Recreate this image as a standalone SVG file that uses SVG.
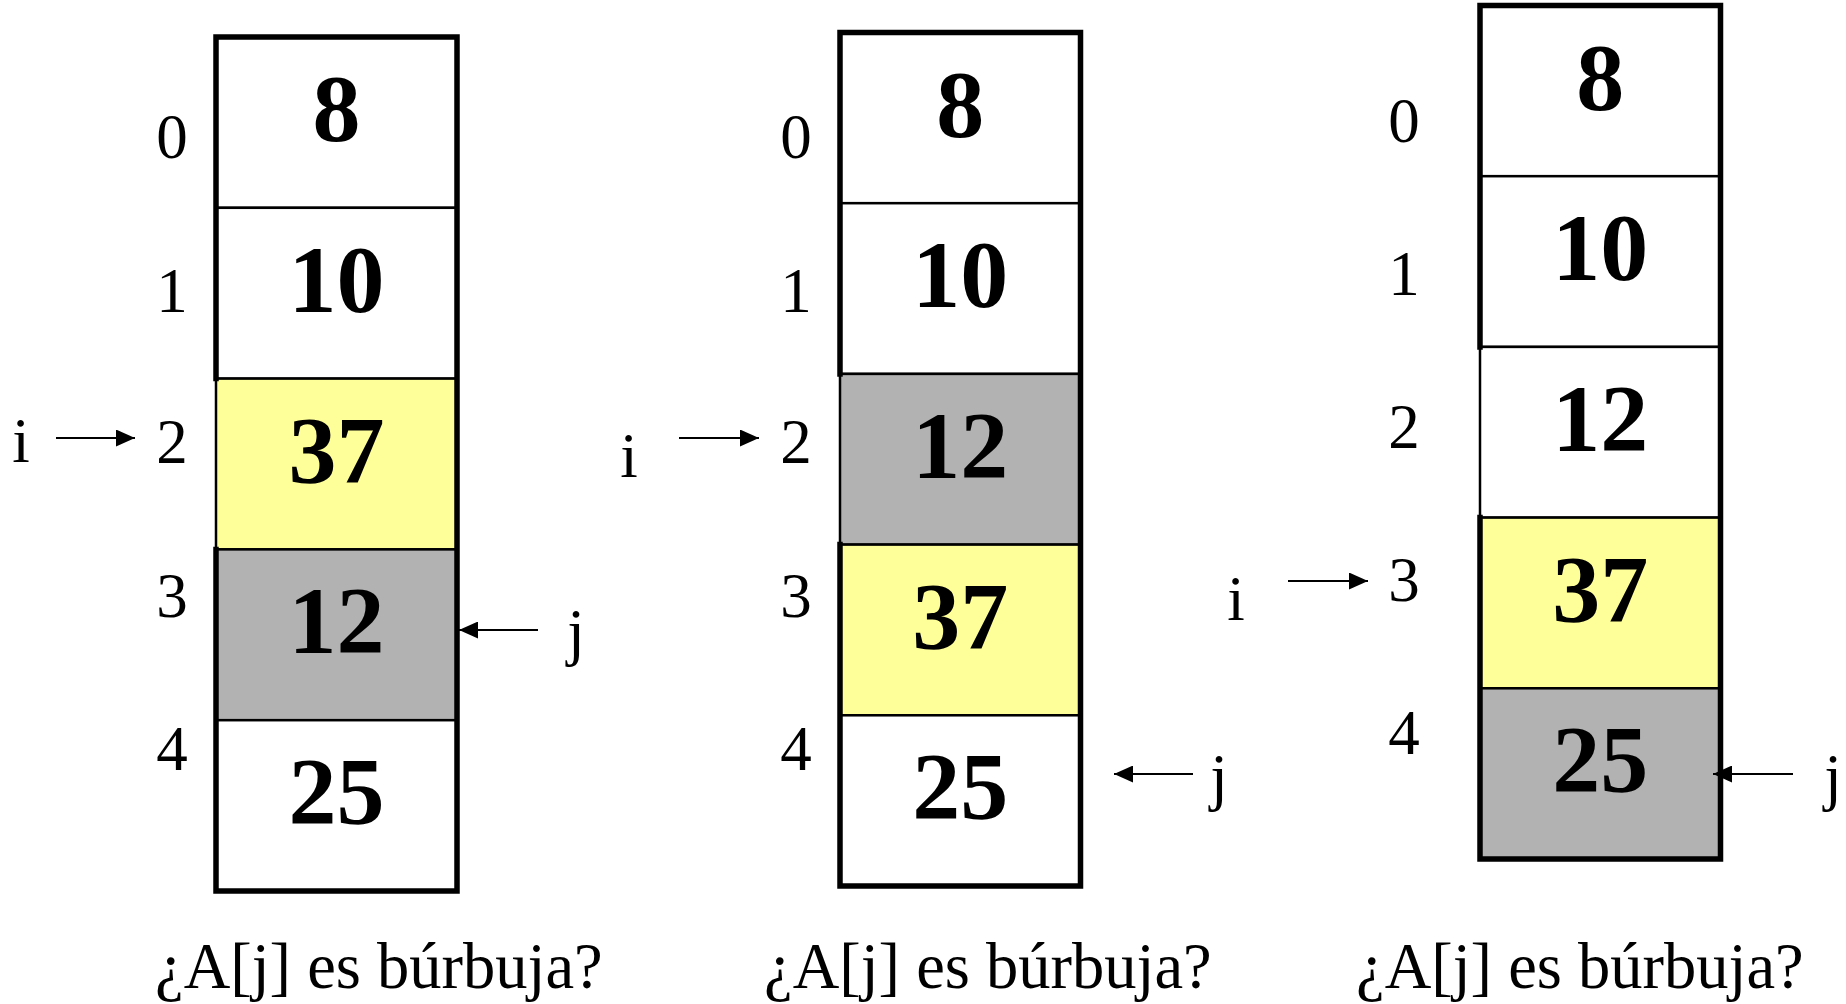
<svg xmlns="http://www.w3.org/2000/svg" width="1846" height="1004" viewBox="0 0 1846 1004">
  <style>
    .cell { stroke: #000; stroke-width: 2.5; }
    .white { fill: #ffffff; }
    .yellow { fill: #ffff99; }
    .gray { fill: #b2b2b2; }
    .frame { fill: none; stroke: #000; stroke-width: 5.5; stroke-linecap: square; }
    .val { font-family: "Liberation Serif", "Times New Roman", serif; font-weight: bold; font-size: 96px; text-anchor: middle; fill: #000; }
    .idx { font-family: "Liberation Serif", "Times New Roman", serif; font-size: 63px; text-anchor: middle; fill: #000; }
    .cap { font-family: "Liberation Serif", "Times New Roman", serif; font-size: 64.5px; fill: #000; }
    .ptr { stroke: #000; stroke-width: 2; fill: none; marker-end: url(#head); }
  </style>
  <defs>
    <marker id="head" viewBox="0 0 19 17" refX="19" refY="8.5" markerWidth="19" markerHeight="17" markerUnits="userSpaceOnUse" orient="auto">
      <path d="M0,0 L19,8.5 L0,17 z" fill="#000"/>
    </marker>
  </defs>
  <rect width="1846" height="1004" fill="#ffffff"/>

  <!-- Array state 1: i=2, j=3 -->
  <g id="array1">
    <rect class="cell white" x="216" y="37" width="241" height="170.8"/>
    <rect class="cell white" x="216" y="207.8" width="241" height="170.8"/>
    <rect class="cell yellow" x="216" y="378.6" width="241" height="170.8"/>
    <rect class="cell gray" x="216" y="549.4" width="241" height="170.8"/>
    <rect class="cell white" x="216" y="720.2" width="241" height="170.8"/>
    <path class="frame" d="M216,378.6 L216,37 L457,37 L457,891 L216,891 L216,549.4"/>
    <text class="val" x="336.5" y="141">8</text>
    <text class="val" x="336.5" y="312">10</text>
    <text class="val" x="336.5" y="483">37</text>
    <text class="val" x="336.5" y="653">12</text>
    <text class="val" x="336.5" y="824">25</text>
    <text class="idx" x="172" y="158">0</text>
    <text class="idx" x="172" y="312">1</text>
    <text class="idx" x="172" y="463">2</text>
    <text class="idx" x="172" y="617">3</text>
    <text class="idx" x="172" y="770">4</text>
    <text class="idx" x="21" y="462">i</text>
    <text class="idx" x="576" y="653">j</text>
    <text class="cap" x="155" y="988">¿A[j] es búrbuja?</text>
  </g>

  <!-- Array state 2: i=2, j=4 -->
  <g id="array2">
    <rect class="cell white" x="840" y="32.5" width="240.5" height="170.7"/>
    <rect class="cell white" x="840" y="203.2" width="240.5" height="170.7"/>
    <rect class="cell gray" x="840" y="373.9" width="240.5" height="170.7"/>
    <rect class="cell yellow" x="840" y="544.6" width="240.5" height="170.7"/>
    <rect class="cell white" x="840" y="715.3" width="240.5" height="170.7"/>
    <path class="frame" d="M840,373.9 L840,32.5 L1080.5,32.5 L1080.5,886 L840,886 L840,544.6"/>
    <text class="val" x="960.3" y="136.5">8</text>
    <text class="val" x="960.3" y="307">10</text>
    <text class="val" x="960.3" y="478">12</text>
    <text class="val" x="960.3" y="648.5">37</text>
    <text class="val" x="960.3" y="819">25</text>
    <text class="idx" x="796" y="158">0</text>
    <text class="idx" x="796" y="312">1</text>
    <text class="idx" x="796" y="463">2</text>
    <text class="idx" x="796" y="617">3</text>
    <text class="idx" x="796" y="770">4</text>
    <text class="idx" x="629" y="477">i</text>
    <text class="idx" x="1219" y="798">j</text>
    <text class="cap" x="764" y="988">¿A[j] es búrbuja?</text>
  </g>

  <!-- Array state 3: i=3, j=4 -->
  <g id="array3">
    <rect class="cell white" x="1480" y="5.5" width="240.5" height="170.7"/>
    <rect class="cell white" x="1480" y="176.2" width="240.5" height="170.7"/>
    <rect class="cell white" x="1480" y="346.9" width="240.5" height="170.7"/>
    <rect class="cell yellow" x="1480" y="517.6" width="240.5" height="170.7"/>
    <rect class="cell gray" x="1480" y="688.3" width="240.5" height="170.7"/>
    <path class="frame" d="M1480,346.9 L1480,5.5 L1720.5,5.5 L1720.5,859 L1480,859 L1480,517.6"/>
    <text class="val" x="1600.3" y="109.5">8</text>
    <text class="val" x="1600.3" y="280">10</text>
    <text class="val" x="1600.3" y="451">12</text>
    <text class="val" x="1600.3" y="621.5">37</text>
    <text class="val" x="1600.3" y="792">25</text>
    <text class="idx" x="1404" y="142">0</text>
    <text class="idx" x="1404" y="295">1</text>
    <text class="idx" x="1404" y="448">2</text>
    <text class="idx" x="1404" y="601">3</text>
    <text class="idx" x="1404" y="754">4</text>
    <text class="idx" x="1236" y="620">i</text>
    <text class="idx" x="1833" y="798">j</text>
    <text class="cap" x="1356" y="988">¿A[j] es búrbuja?</text>
  </g>

  <!-- index pointers -->
  <g id="connectors">
    <line class="ptr" x1="56" y1="438" x2="135" y2="438"/>
    <line class="ptr" x1="538" y1="630" x2="459" y2="630"/>
    <line class="ptr" x1="679" y1="438" x2="759" y2="438"/>
    <line class="ptr" x1="1193" y1="774" x2="1114" y2="774"/>
    <line class="ptr" x1="1288" y1="581" x2="1368" y2="581"/>
    <line class="ptr" x1="1793" y1="774" x2="1713" y2="774"/>
  </g>
</svg>
